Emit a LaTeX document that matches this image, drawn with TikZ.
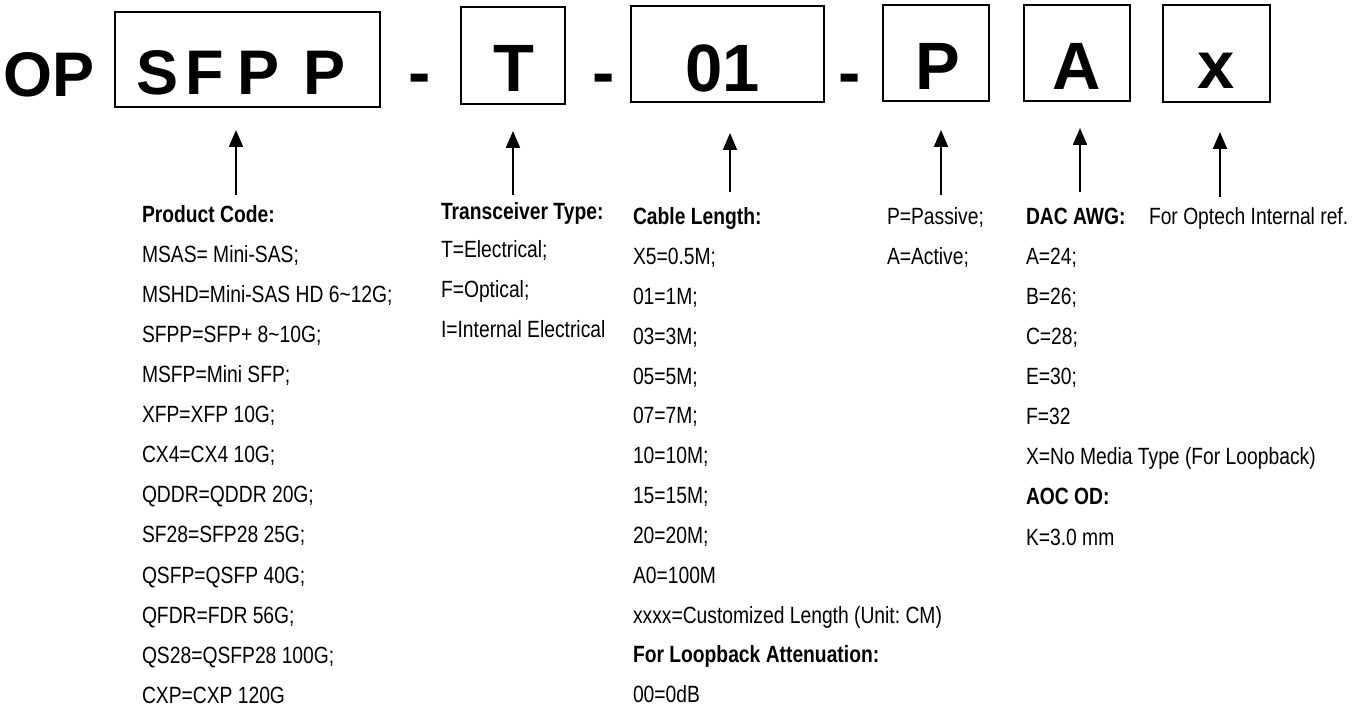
\documentclass[tikz,border=0pt]{standalone}
\usepackage{fontspec}
\setmainfont{Liberation Sans}[FakeStretch=0.82]
\newfontfamily\bigfont{Liberation Sans}
\usetikzlibrary{arrows.meta}
\frenchspacing
\begin{document}
\begin{tikzpicture}[x=1pt,y=-1pt,
  lbl/.style={anchor=base west, inner sep=0pt, outer sep=0pt, font=\fontsize{23.5}{24}\selectfont},
  hdr/.style={lbl, font=\fontsize{23.5}{24}\selectfont\bfseries},
  bigtxt/.style={anchor=base, inner sep=0pt, outer sep=0pt, font=\bigfont\fontsize{67}{67}\selectfont\bfseries},
  midtxt/.style={anchor=base, inner sep=0pt, outer sep=0pt, font=\bigfont\fontsize{63}{63}\selectfont\bfseries},
  codebox/.style={draw, line width=1.8pt, inner sep=0pt, outer sep=0pt},
  arr/.style={line width=2pt, -{Triangle[width=14pt,length=17pt]}}]
\useasboundingbox[fill=white] (0,0) rectangle (1369,708);

% top row
\node[midtxt, anchor=base west] (op) at (3,97) {OP};
\node[codebox, minimum width=265pt, minimum height=95pt] (bsfpp) at (247.5,59.5) {};
\node[midtxt] (s1) at (157.5,95) {S};
\node[midtxt] (s2) at (205,95) {F};
\node[midtxt] (s3) at (258.5,95) {P};
\node[midtxt] (s4) at (325,95) {P};
\node[bigtxt] (d1) at (420,96) {-};
\node[codebox, minimum width=104pt, minimum height=97pt] (bt) at (513,55.5) {};
\node[bigtxt] (tt) at (514,92) {T};
\node[bigtxt] (d2) at (604,96) {-};
\node[codebox, minimum width=193pt, minimum height=96pt] (blen) at (727.5,54) {};
\node[bigtxt] (tlen) at (723,92) {01};
\node[bigtxt] (d3) at (850,96) {-};
\node[codebox, minimum width=106pt, minimum height=96pt] (bp) at (936,53) {};
\node[bigtxt] (tp) at (938,90) {P};
\node[codebox, minimum width=106pt, minimum height=96pt] (ba) at (1077,53) {};
\node[bigtxt] (ta) at (1077,90) {A};
\node[codebox, minimum width=107pt, minimum height=97pt] (bx) at (1216.5,53.5) {};
\node[bigtxt] (tx) at (1216.5,89) {x};

% arrows
\coordinate (a1s) at (236,195); \coordinate (a1e) at (236,130);
\coordinate (a2s) at (513,195); \coordinate (a2e) at (513,131);
\coordinate (a3s) at (730,192); \coordinate (a3e) at (730,133);
\coordinate (a4s) at (941,195); \coordinate (a4e) at (941,130);
\coordinate (a5s) at (1080,192); \coordinate (a5e) at (1080,128);
\coordinate (a6s) at (1220,197); \coordinate (a6e) at (1220,132);
\foreach \k in {1,...,6} \draw[arr] (a\k s) -- (a\k e);

% column 1: product code
\node[hdr] (pch) at (142,223) {Product Code:};
\foreach \t [count=\i] in {{MSAS= Mini-SAS;},{MSHD=Mini-SAS HD 6\textasciitilde12G;},{SFPP=SFP+ 8\textasciitilde10G;},{MSFP=Mini SFP;},{XFP=XFP 10G;},{CX4=CX4 10G;},{QDDR=QDDR 20G;},{SF28=SFP28 25G;},{QSFP=QSFP 40G;},{QFDR=FDR 56G;},{QS28=QSFP28 100G;},{CXP=CXP 120G}}
  \node[lbl] (pc\i) at (142,223+40*\i) {\t};

% column 2: transceiver type
\node[hdr] (tth) at (441,220) {Transceiver Type:};
\node[lbl] (tt1) at (441,258) {T=Electrical;};
\node[lbl] (tt2) at (441,298) {F=Optical;};
\node[lbl] (tt3) at (441,338) {I=Internal Electrical};

% column 3: cable length
\node[hdr] (clh) at (633,225) {Cable Length:};
\foreach \t [count=\i] in {{X5=0.5M;},{01=1M;},{03=3M;},{05=5M;},{07=7M;},{10=10M;},{15=15M;},{20=20M;},{A0=100M},{xxxx=Customized Length (Unit: CM)}}
  \node[lbl] (cl\i) at (633,225+39.8*\i) {\t};
\node[hdr] (lbh) at (633,662.8) {For Loopback Attenuation:};
\node[lbl] (lb1) at (633,702.6) {00=0dB};

% column 4: passive/active
\node[lbl] (pa1) at (887,225) {P=Passive;};
\node[lbl] (pa2) at (887,265) {A=Active;};

% column 5: DAC AWG
\node[hdr] (awh) at (1026,225) {DAC AWG:};
\foreach \t [count=\i] in {{A=24;},{B=26;},{C=28;},{E=30;},{F=32},{X=No Media Type (For Loopback)}}
  \node[lbl] (aw\i) at (1026,225+40*\i) {\t};
\node[hdr] (aoh) at (1026,505) {AOC OD:};
\node[lbl] (ao1) at (1026,545) {K=3.0 mm};

% column 6
\node[lbl] (ref) at (1149,225) {For Optech Internal ref.};
\end{tikzpicture}
\end{document}
